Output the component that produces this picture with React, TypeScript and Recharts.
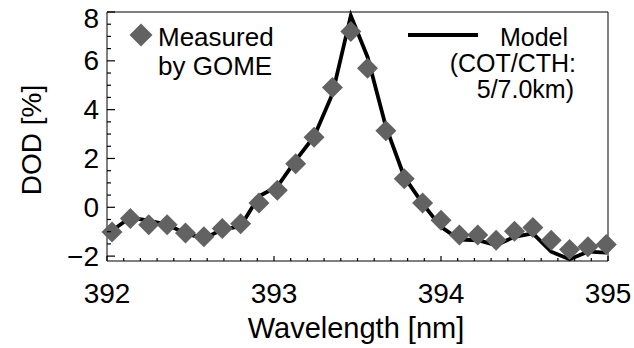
import React from 'react';
import { ComposedChart, Scatter, Line, XAxis, YAxis } from 'recharts';

// GOME sampling grid [nm]
const wavelengths = [
  392.03, 392.14, 392.25, 392.36, 392.47, 392.58, 392.69, 392.8, 392.91, 393.02,
  393.13, 393.24, 393.35, 393.46, 393.56, 393.67, 393.78, 393.89, 394.0, 394.11,
  394.22, 394.33, 394.44, 394.55, 394.66, 394.77, 394.88, 394.99,
];

// DOD [%] measured by GOME
const measured = [
  -1.01, -0.46, -0.71, -0.71, -1.05, -1.21, -0.87, -0.67, 0.18, 0.7,
  1.78, 2.87, 4.91, 7.2, 5.7, 3.14, 1.17, 0.18, -0.53, -1.14,
  -1.14, -1.35, -0.98, -0.83, -1.35, -1.73, -1.62, -1.52,
];

// DOD [%] model (COT/CTH: 5/7.0km)
const model = [
  -0.95, -0.42, -0.55, -0.71, -1.07, -1.28, -0.91, -0.78, 0.45, 0.85,
  1.92, 2.9, 4.64, 7.85, 6.16, 3.3, 1.25, 0.15, -0.8, -1.32,
  -1.35, -1.55, -1.21, -1.07, -1.82, -2.13, -1.82, -1.86,
];

const xMajor = [392, 393, 394, 395];
const yMajor = [-2, 0, 2, 4, 6, 8];

// minor ticks every 0.1 nm / 0.5 %
const xTicks: number[] = [];
for (let i = 0; i <= 30; i++) xTicks.push(Math.round((392 + i * 0.1) * 10) / 10);
const yTicks: number[] = [];
for (let i = 0; i <= 20; i++) yTicks.push(-2 + i * 0.5);

const measuredData = wavelengths.map((wl, i) => ({ wl, v: measured[i] }));
const modelData = wavelengths.map((wl, i) => ({ wl, v: model[i] }));

const FONT = '"Liberation Sans", Arial, sans-serif';
const GREY = '#626262';

const isMajor = (v: number, list: number[]) => list.some((m) => Math.abs(m - v) < 1e-6);
const fmt = (v: number) => (v < 0 ? '\u2212' + Math.abs(v) : String(v));

const BottomTick = (props: any) => {
  const { x, y, payload } = props;
  const major = isMajor(payload.value, xMajor);
  return (
    <g>
      <line x1={x} x2={x} y1={y} y2={y - (major ? 5 : 3)} stroke="#000" strokeWidth={1.2} />
      {major && (
        <text x={x} y={y + 42} textAnchor="middle" fontSize={28} fontFamily={FONT} fill="#000">
          {payload.value}
        </text>
      )}
    </g>
  );
};

const TopTick = (props: any) => {
  const { x, y, payload } = props;
  const major = isMajor(payload.value, xMajor);
  return <line x1={x} x2={x} y1={y} y2={y + (major ? 5 : 3)} stroke="#000" strokeWidth={1.2} />;
};

const LeftTick = (props: any) => {
  const { x, y, payload } = props;
  const major = isMajor(payload.value, yMajor);
  return (
    <g>
      <line x1={x} x2={x + (major ? 8 : 4)} y1={y} y2={y} stroke="#000" strokeWidth={1.2} />
      {major && (
        <text
          x={x - 8}
          y={Math.max(y, 18)}
          textAnchor="end"
          dominantBaseline="central"
          fontSize={28}
          fontFamily={FONT}
          fill="#000"
        >
          {fmt(payload.value)}
        </text>
      )}
    </g>
  );
};

const RightTick = (props: any) => {
  const { x, y, payload } = props;
  const major = isMajor(payload.value, yMajor);
  return <line x1={x} x2={x - (major ? 8 : 4)} y1={y} y2={y} stroke="#000" strokeWidth={1.2} />;
};

const Diamond = (props: any) => {
  const { cx, cy } = props;
  const r = 10.5;
  return (
    <polygon
      points={`${cx},${cy - r} ${cx + r},${cy} ${cx},${cy + r} ${cx - r},${cy}`}
      fill={GREY}
    />
  );
};

export default function App() {
  return (
    <div style={{ position: 'absolute', left: 0, top: 0, width: 634, height: 348, background: '#fff' }}>
      <ComposedChart width={634} height={348} margin={{ top: 11, right: 25, bottom: 57, left: 7 }}>
        <XAxis
          xAxisId="b"
          dataKey="wl"
          type="number"
          domain={[392, 395]}
          ticks={xTicks}
          interval={0}
          height={30}
          tickSize={0}
          tickMargin={0}
          tickLine={false}
          tick={<BottomTick />}
          stroke="#000"
        />
        <XAxis
          xAxisId="t"
          orientation="top"
          dataKey="wl"
          type="number"
          domain={[392, 395]}
          ticks={xTicks}
          interval={0}
          height={1}
          tickSize={0}
          tickMargin={0}
          tickLine={false}
          tick={<TopTick />}
          stroke="#000"
        />
        <YAxis
          yAxisId="l"
          type="number"
          domain={[-2.2, 8]}
          ticks={yTicks}
          interval={0}
          width={100}
          tickSize={0}
          tickMargin={0}
          tickLine={false}
          tick={<LeftTick />}
          stroke="#000"
        />
        <YAxis
          yAxisId="r"
          orientation="right"
          type="number"
          domain={[-2.2, 8]}
          ticks={yTicks}
          interval={0}
          width={1}
          tickSize={0}
          tickMargin={0}
          tickLine={false}
          tick={<RightTick />}
          stroke="#000"
        />
        <Scatter
          xAxisId="b"
          yAxisId="l"
          data={measuredData}
          dataKey="v"
          shape={<Diamond />}
          isAnimationActive={false}
        />
        <Line
          xAxisId="b"
          yAxisId="l"
          data={modelData}
          dataKey="v"
          type="linear"
          stroke="#000"
          strokeWidth={3.8}
          dot={false}
          activeDot={false}
          isAnimationActive={false}
        />
      </ComposedChart>
      <svg
        width={634}
        height={348}
        style={{ position: 'absolute', left: 0, top: 0, pointerEvents: 'none' }}
        fontFamily={FONT}
      >
        <polygon points="141,23.5 152.5,35 141,46.5 129.5,35" fill={GREY} />
        <text x={158} y={46} fontSize={26} fill="#000">Measured</text>
        <text x={158} y={75} fontSize={26} fill="#000">by GOME</text>
        <line x1={408} x2={478} y1={35} y2={35} stroke="#000" strokeWidth={4} />
        <text x={568} y={46} fontSize={25} textAnchor="end" fill="#000">Model</text>
        <text x={576} y={72} fontSize={25} textAnchor="end" fill="#000">(COT/CTH:</text>
        <text x={574} y={98} fontSize={25} textAnchor="end" fill="#000">5/7.0km)</text>
        <text x={356} y={338} fontSize={29} textAnchor="middle" fill="#000">Wavelength [nm]</text>
        <text
          x={41}
          y={140}
          fontSize={28}
          textAnchor="middle"
          transform="rotate(-90 41 140)"
          fill="#000"
        >
          DOD [%]
        </text>
      </svg>
    </div>
  );
}
